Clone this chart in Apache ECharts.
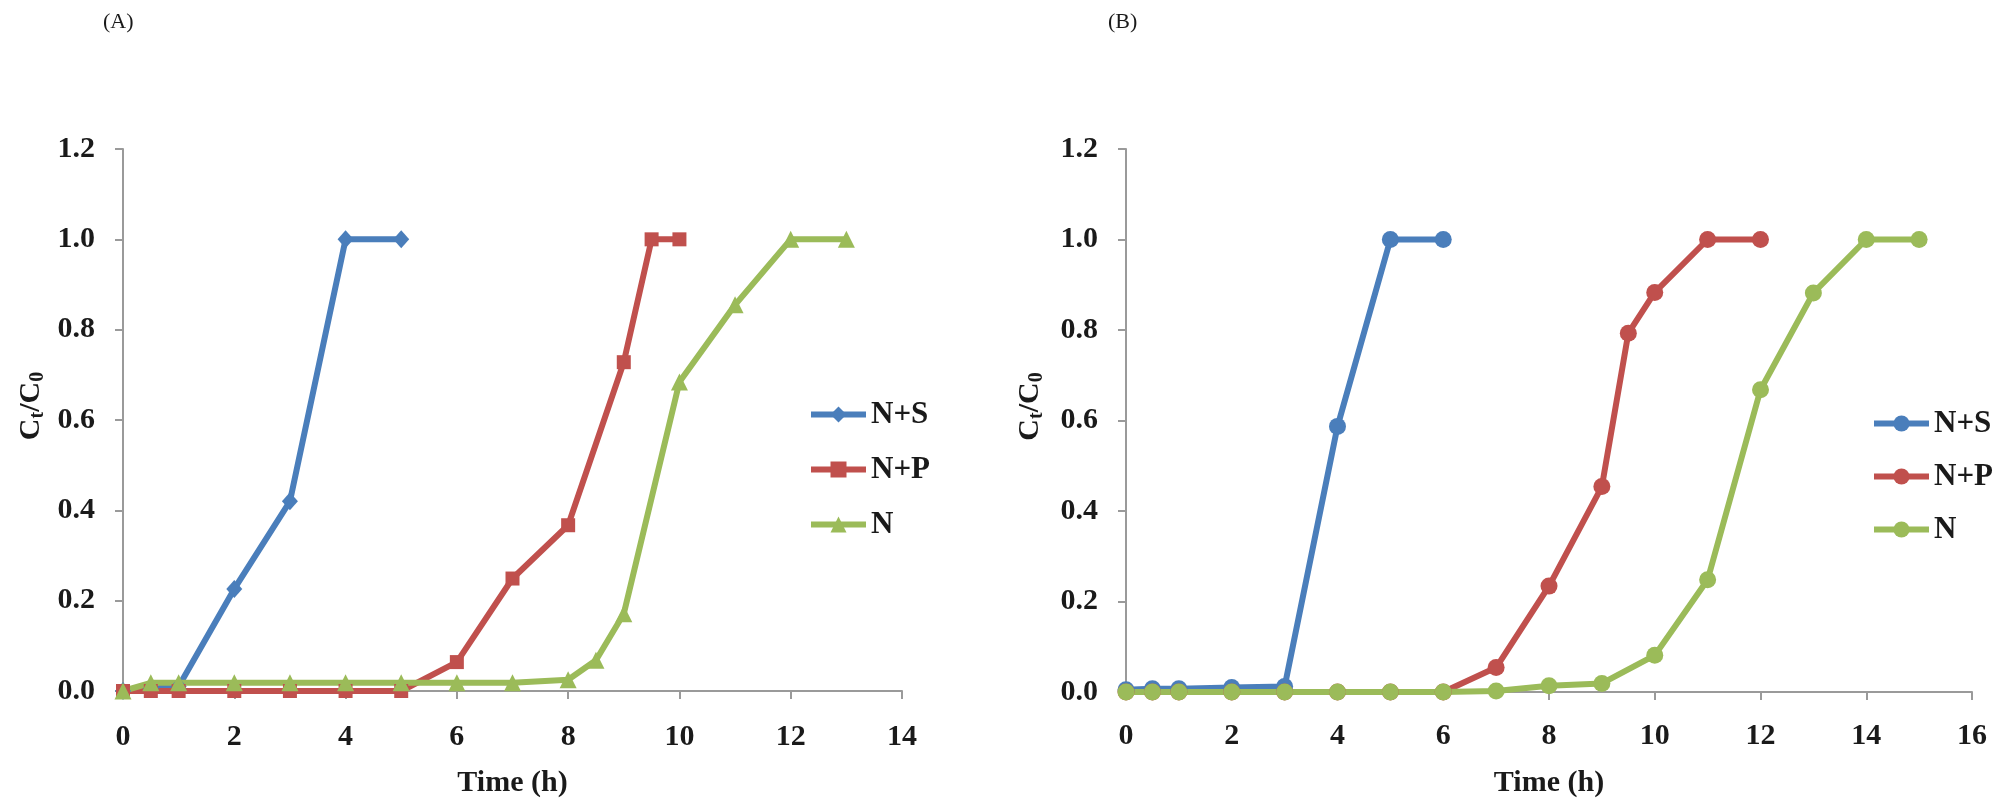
<!DOCTYPE html>
<html>
<head>
<meta charset="utf-8">
<script src="https://cdn.jsdelivr.net/npm/echarts@6/dist/echarts.min.js"></script>
<style>
html,body{margin:0;padding:0;background:#fff;}
#chart{width:2011px;height:803px;}
</style>
</head>
<body>
<div id="chart"></div>
<script>
// ---- Data (A) ----
const timeA_NS = [0, 0.5, 1, 2, 3, 4, 5];
const valA_NS  = [0, 0.005, 0.01, 0.226, 0.42, 1.0, 1.0];
const timeA_NP = [0, 0.5, 1, 2, 3, 4, 5, 6, 7, 8, 9, 9.5, 10];
const valA_NP  = [0, 0, 0, 0, 0, 0, 0, 0.064, 0.249, 0.367, 0.728, 1.0, 1.0];
const timeA_N  = [0, 0.5, 1, 2, 3, 4, 5, 6, 7, 8, 8.5, 9, 10, 11, 12, 13];
const valA_N   = [0, 0.018, 0.018, 0.018, 0.018, 0.018, 0.018, 0.018, 0.018, 0.025, 0.068, 0.171, 0.684, 0.855, 1.0, 1.0];
// ---- Data (B) ----
const timeB_NS = [0, 0.5, 1, 2, 3, 4, 5, 6];
const valB_NS  = [0.005, 0.007, 0.007, 0.01, 0.012, 0.587, 1.0, 1.0];
const timeB_NP = [0, 0.5, 1, 2, 3, 4, 5, 6, 7, 8, 9, 9.5, 10, 11, 12];
const valB_NP  = [0, 0, 0, 0, 0, 0, 0, 0, 0.054, 0.234, 0.454, 0.793, 0.883, 1.0, 1.0];
const timeB_N  = [0, 0.5, 1, 2, 3, 4, 5, 6, 7, 8, 9, 10, 11, 12, 13, 14, 15];
const valB_N   = [0, 0, 0, 0, 0, 0, 0, 0, 0.002, 0.014, 0.019, 0.081, 0.248, 0.668, 0.882, 1.0, 1.0];
const seriesNames = ['N+S', 'N+P', 'N'];
const panelLabels = ['(A)', '(B)'];
const xAxisMax = [14, 16];
const yAxisMax = 1.2;
const xAxisTitle = 'Time (h)';

const colors = ['#4A7EBB', '#C0504D', '#9BBB59'];
const FONT = '"Liberation Serif", "Times New Roman", serif';
const zip = (xs, ys) => xs.map((x, i) => [x, ys[i]]);

const chart = echarts.init(document.getElementById('chart'), null, {renderer: 'canvas'});

function xAxisCfg(gi, max, gap, margin) {
  return {
    type: 'value', gridIndex: gi, min: 0, max: max, interval: 2,
    name: xAxisTitle, nameLocation: 'middle', nameGap: gap,
    nameTextStyle: {fontFamily: FONT, fontWeight: 'bold', fontSize: 30, color: '#1a1a1a'},
    axisLine: {onZero: false, lineStyle: {color: '#9a9a9a', width: 2}},
    axisTick: {show: true, length: 8, lineStyle: {color: '#9a9a9a', width: 2}},
    axisLabel: {fontFamily: FONT, fontWeight: 'bold', fontSize: 30, color: '#1a1a1a', margin: margin},
    splitLine: {show: false}
  };
}
function yAxisCfg(gi, gap) {
  return {
    type: 'value', gridIndex: gi, min: 0, max: yAxisMax, interval: 0.2,
    name: 'C{s|t}/C{s|0}', nameLocation: 'middle', nameGap: gap, nameRotate: 90,
    nameTextStyle: {
      fontFamily: FONT, fontWeight: 'bold', fontSize: 30, color: '#1a1a1a',
      padding: [0, 0, 0, 28],
      rich: {s: {fontFamily: FONT, fontWeight: 'bold', fontSize: 20, color: '#1a1a1a', padding: [14, 0, 0, 0]}}
    },
    axisLine: {show: true, lineStyle: {color: '#9a9a9a', width: 2}},
    axisTick: {show: true, length: 8, lineStyle: {color: '#9a9a9a', width: 2}},
    axisLabel: {fontFamily: FONT, fontWeight: 'bold', fontSize: 30, color: '#1a1a1a', margin: 28,
      formatter: v => v.toFixed(1)},
    splitLine: {show: false}
  };
}
function lineSeries(name, gi, data, color, symbol, size) {
  return {
    type: 'line', name: name, xAxisIndex: gi, yAxisIndex: gi, data: data,
    symbol: symbol, symbolSize: size, showSymbol: true,
    lineStyle: {color: color, width: 6},
    itemStyle: {color: color},
    emphasis: {disabled: true},
    animation: false
  };
}
function legendCfg(names, left, top, gap) {
  return {
    data: names, orient: 'vertical', left: left, top: top,
    itemWidth: 55, itemHeight: 20, itemGap: gap,
    formatter: n => n.trim(),
    lineStyle: {width: 6},
    textStyle: {fontFamily: FONT, fontWeight: 'bold', fontSize: 31, color: '#1a1a1a', lineHeight: 31},
    selectedMode: false
  };
}

const namesB = seriesNames.map(n => n + ' ');

const option = {
  backgroundColor: '#ffffff',
  animation: false,
  title: [
    {text: panelLabels[0], left: 103, top: 11, padding: 0,
     textStyle: {fontFamily: FONT, fontWeight: 'normal', fontSize: 22, color: '#1a1a1a'}},
    {text: panelLabels[1], left: 1108, top: 11, padding: 0,
     textStyle: {fontFamily: FONT, fontWeight: 'normal', fontSize: 22, color: '#1a1a1a'}}
  ],
  grid: [
    {left: 123, top: 149, width: 779, height: 545, containLabel: false},
    {left: 1126, top: 149, width: 846, height: 553, containLabel: false}
  ],
  xAxis: [xAxisCfg(0, xAxisMax[0], 77, 31), xAxisCfg(1, xAxisMax[1], 76, 29)],
  yAxis: [yAxisCfg(0, 75), yAxisCfg(1, 79)],
  legend: [
    legendCfg(seriesNames, 803, 394, 24),
    legendCfg(namesB, 1866, 403, 22)
  ],
  series: [
    lineSeries(seriesNames[0], 0, zip(timeA_NS, valA_NS), colors[0], 'diamond', [16, 18]),
    lineSeries(seriesNames[1], 0, zip(timeA_NP, valA_NP), colors[1], 'rect', 14),
    lineSeries(seriesNames[2], 0, zip(timeA_N, valA_N), colors[2], 'triangle', 17),
    lineSeries(namesB[0], 1, zip(timeB_NS, valB_NS), colors[0], 'circle', 17),
    lineSeries(namesB[1], 1, zip(timeB_NP, valB_NP), colors[1], 'circle', 17),
    lineSeries(namesB[2], 1, zip(timeB_N, valB_N), colors[2], 'circle', 17)
  ]
};
chart.setOption(option);
</script>
</body>
</html>
